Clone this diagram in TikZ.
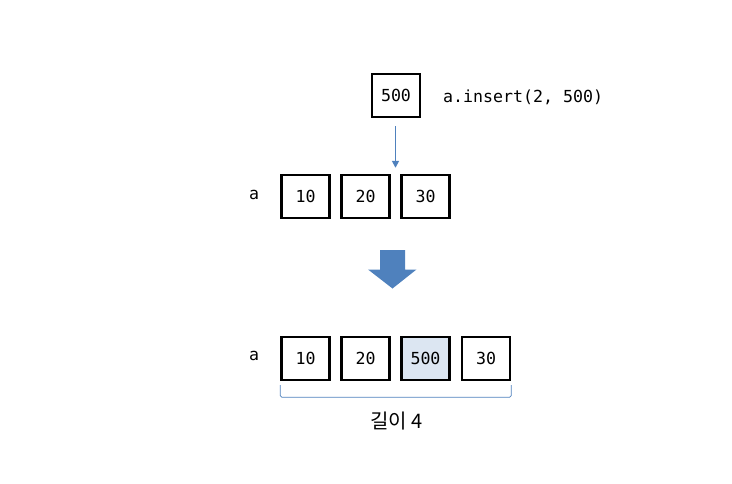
\documentclass[tikz,border=0pt]{standalone}
\usepackage{fontspec}
\setmonofont{DejaVu Sans Mono}
\newfontfamily\krfont{Noto Sans CJK KR}
\usetikzlibrary{arrows.meta,calc}
\definecolor{officeblue}{HTML}{4F81BD}
\definecolor{cellfill}{HTML}{DCE6F2}
\begin{document}
\begin{tikzpicture}[x=1pt,y=-1pt,
  cell/.style={draw=black,line width=2.4pt,minimum width=48pt,minimum height=43pt,inner sep=0pt,font=\ttfamily\fontsize{16.6}{20}\selectfont},
  codelbl/.style={font=\ttfamily\fontsize{16.6}{20}\selectfont,inner sep=0pt},
  thinarrow/.style={draw=officeblue,line width=1.6pt,-{Triangle[width=7pt,length=7pt]}},
  bracestyle/.style={draw=officeblue,line width=0.8pt}]
\useasboundingbox (0,0) rectangle (732,483);
% top new element
\node[cell] (n500) at (396,95.5) {500};
\node[codelbl,anchor=west] (cmd) at (443,97) {a.insert(2, 500)};
% original list
\node[codelbl] (la) at (254,195) {a};
\node[cell] (t1) at (305.5,196.5) {10};
\node[cell] (t2) at (365.5,196.5) {20};
\node[cell] (t3) at (425.5,196.5) {30};
\coordinate (ins) at ($(t2.north east)!0.5!(t3.north west)$);
\draw[thinarrow,shorten <=8pt,shorten >=6pt] (n500.south -| ins) -- (ins);
% big arrow
\coordinate (ba) at (392.5,250);
\fill[officeblue] (ba) ++(-12.5,0) -- ++(25,0) -- ++(0,19.5) -- ++(11.5,0) -- (392.5,288.5) -- (368,269.5) -- ++(12,0) -- cycle;
% result list
\node[codelbl] (lb) at (254,356) {a};
\node[cell] (b1) at (305.5,358.5) {10};
\node[cell] (b2) at (365.5,358.5) {20};
\node[cell,fill=cellfill] (b3) at (425.5,358.5) {500};
\node[cell] (b4) at (486,358.5) {30};
% brace
\coordinate (bl) at ($(b1.south west)+(0,4)$);
\coordinate (br) at ($(b4.south east)+(0,4)$);
\draw[bracestyle,rounded corners=1.5pt] (bl) -- ++(0,12) -| (br);
\node[font=\krfont\fontsize{20}{24}\selectfont,inner sep=0pt] (len) at (396.5,421) {길이 4};
\end{tikzpicture}
\end{document}
